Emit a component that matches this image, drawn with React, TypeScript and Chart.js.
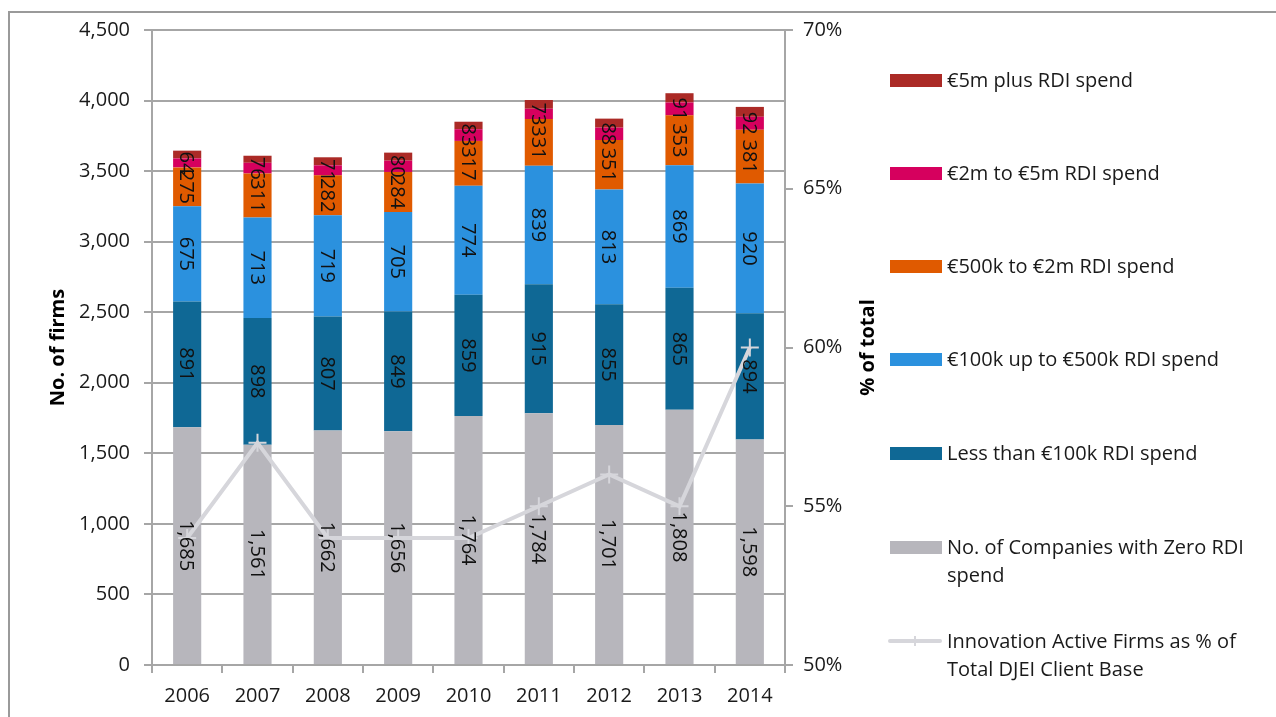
import React, { useEffect, useRef } from "react";
import { Chart, registerables } from "chart.js";

Chart.register(...registerables);

const FONT = "'Segoe UI', 'Open Sans', sans-serif";
const FS = 20;

const years = ["2006", "2007", "2008", "2009", "2010", "2011", "2012", "2013", "2014"];
const zeroSpend = [1685, 1561, 1662, 1656, 1764, 1784, 1701, 1808, 1598];
const lessThan100k = [891, 898, 807, 849, 859, 915, 855, 865, 894];
const from100kTo500k = [675, 713, 719, 705, 774, 839, 813, 869, 920];
const from500kTo2m = [275, 311, 282, 284, 317, 331, 351, 353, 381];
const from2mTo5m = [64, 76, 71, 80, 83, 73, 88, 91, 92];
const over5m = [55, 50, 57, 57, 53, 62, 64, 66, 70];
const innovationActivePct = [54, 57, 54, 54, 54, 55, 56, 55, 60];

const leftAxisTitle = "No. of firms";
const rightAxisTitle = "% of total";

const barSeries = [
  { label: "No. of Companies with Zero RDI\nspend", data: zeroSpend, color: "#b7b6bc", showValues: true },
  { label: "Less than €100k RDI spend", data: lessThan100k, color: "#0f6895", showValues: true },
  { label: "€100k up to €500k RDI spend", data: from100kTo500k, color: "#2b91de", showValues: true },
  { label: "€500k to €2m RDI spend", data: from500kTo2m, color: "#e05a00", showValues: true },
  { label: "€2m to €5m RDI spend", data: from2mTo5m, color: "#d6005e", showValues: true },
  { label: "€5m plus RDI spend", data: over5m, color: "#ab2a26", showValues: false },
];
const lineSeries = {
  label: "Innovation Active Firms as % of\nTotal DJEI Client Base",
  data: innovationActivePct,
  color: "#d6d6db",
};

const GRID = "#a6a6a6";
const TEXT = "#1a1a1a";

const segLabels = {
  id: "segLabels",
  afterDatasetsDraw(chart: any) {
    const ctx = chart.ctx;
    ctx.save();
    ctx.font = `${FS}px ${FONT}`;
    ctx.fillStyle = "#111";
    ctx.textAlign = "center";
    ctx.textBaseline = "middle";
    chart.data.datasets.forEach((ds: any, i: number) => {
      if (!ds.showValues) return;
      const meta = chart.getDatasetMeta(i);
      meta.data.forEach((el: any, j: number) => {
        const { x, y, base } = el.getProps(["x", "y", "base"], true);
        ctx.save();
        ctx.translate(x, (y + base) / 2);
        ctx.rotate(Math.PI / 2);
        ctx.fillText(Number(ds.data[j]).toLocaleString("en-US"), 0, 1);
        ctx.restore();
      });
    });
    ctx.restore();
  },
};

const axisTitles = {
  id: "axisTitles",
  afterDraw(chart: any) {
    const ctx = chart.ctx;
    const { top, bottom } = chart.chartArea;
    const cy = (top + bottom) / 2;
    ctx.save();
    ctx.font = `bold ${FS}px ${FONT}`;
    ctx.fillStyle = "#000";
    ctx.textAlign = "center";
    ctx.textBaseline = "middle";
    [
      [58, leftAxisTitle],
      [868, rightAxisTitle],
    ].forEach(([x, t]: any) => {
      ctx.save();
      ctx.translate(x, cy);
      ctx.rotate(-Math.PI / 2);
      ctx.fillText(t, 0, 0);
      ctx.restore();
    });
    ctx.restore();
  },
};

const legendCenters = [80, 173, 266, 359, 453, 547, 641];

export default function App() {
  const ref = useRef<HTMLCanvasElement>(null);
  useEffect(() => {
    const datasets: any[] = [
      {
        type: "line",
        label: lineSeries.label,
        data: lineSeries.data,
        yAxisID: "y1",
        borderColor: lineSeries.color,
        backgroundColor: lineSeries.color,
        borderWidth: 4,
        pointStyle: "cross",
        pointRadius: 9,
        pointBorderWidth: 2,
        pointBorderColor: lineSeries.color,
        tension: 0,
        order: 0,
      },
      ...barSeries.map((s) => ({
        type: "bar",
        label: s.label,
        data: s.data,
        backgroundColor: s.color,
        yAxisID: "y",
        stack: "s",
        order: 1,
        showValues: s.showValues,
        barPercentage: 0.4,
        categoryPercentage: 1,
      })),
    ];
    const chart = new Chart(ref.current!, {
      type: "bar",
      data: { labels: years, datasets },
      options: {
        responsive: false,
        animation: false,
        devicePixelRatio: 1,
        layout: { padding: { top: 30, left: 0, right: 0, bottom: 0 } },
        plugins: { legend: { display: false }, tooltip: { enabled: false } },
        font: { family: FONT },
        scales: {
          x: {
            stacked: true,
            offset: true,
            afterFit: (s: any) => {
              s.height = 52;
            },
            grid: { drawOnChartArea: false, drawTicks: true, tickLength: 8, color: GRID, lineWidth: 2, offset: true },
            border: { color: GRID, width: 2 },
            ticks: { color: TEXT, font: { family: FONT, size: FS }, padding: 11 },
          },
          y: {
            stacked: true,
            position: "left",
            min: 0,
            max: 4500,
            afterFit: (s: any) => {
              s.width = 152;
            },
            ticks: {
              stepSize: 500,
              color: TEXT,
              font: { family: FONT, size: FS },
              padding: 14,
              callback: (v: any) => Number(v).toLocaleString("en-US"),
            },
            grid: { color: GRID, lineWidth: 2, tickLength: 8 },
            border: { color: GRID, width: 2 },
          },
          y1: {
            position: "right",
            min: 50,
            max: 70,
            afterFit: (s: any) => {
              s.width = 1276 - 785;
            },
            ticks: {
              stepSize: 5,
              color: TEXT,
              font: { family: FONT, size: FS },
              padding: 10,
              callback: (v: any) => `${v}%`,
            },
            grid: { drawOnChartArea: false, color: GRID, lineWidth: 2, tickLength: 8 },
            border: { color: GRID, width: 2 },
          },
        },
      } as any,
      plugins: [segLabels, axisTitles],
    });
    return () => chart.destroy();
  }, []);

  const legendItems = [
    ...barSeries
      .slice()
      .reverse()
      .map((s) => ({ label: s.label, color: s.color, line: false })),
    { label: lineSeries.label, color: lineSeries.color, line: true },
  ];

  return (
    <div style={{ position: "fixed", left: 0, top: 0, width: 1276, height: 717, overflow: "hidden", background: "#fff" }}>
      <div
        style={{
          position: "absolute",
          left: 8,
          top: 11,
          width: 1400,
          height: 800,
          border: "2px solid #9a9a9a",
          boxSizing: "border-box",
        }}
      />
      <canvas ref={ref} width={1276} height={717} style={{ position: "absolute", left: 0, top: 0, width: 1276, height: 717 }} />
      {legendItems.map((it, i) => {
        const cy = legendCenters[i];
        return (
          <React.Fragment key={i}>
            {it.line ? (
              <>
                <div style={{ position: "absolute", left: 888, top: cy - 2, width: 54, height: 4, background: it.color, borderRadius: 2 }} />
                <div style={{ position: "absolute", left: 914, top: cy - 5, width: 2, height: 10, background: it.color }} />
              </>
            ) : (
              <div style={{ position: "absolute", left: 890, top: cy - 6, width: 52, height: 13, background: it.color }} />
            )}
            <div
              style={{
                position: "absolute",
                left: 947,
                top: cy - 14,
                font: `${FS}px ${FONT}`,
                lineHeight: "28px",
                color: TEXT,
                whiteSpace: "pre",
              }}
            >
              {it.label}
            </div>
          </React.Fragment>
        );
      })}
    </div>
  );
}
